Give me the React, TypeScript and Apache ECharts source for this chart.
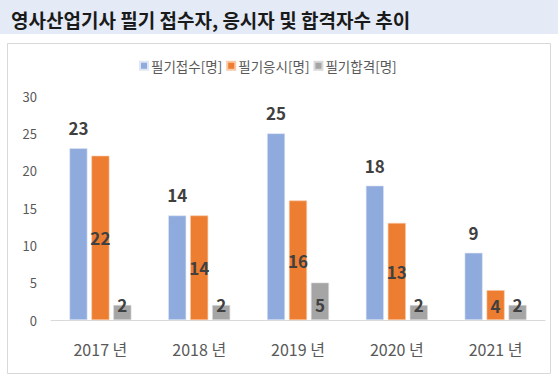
import React, { useEffect, useRef } from "react";
import * as echarts from "echarts";

const categories = ["2017 년", "2018 년", "2019 년", "2020 년", "2021 년"];
const applied = [23, 14, 25, 18, 9];
const attended = [22, 14, 16, 13, 4];
const passed = [2, 2, 5, 2, 2];
const seriesNames = ["필기접수[명]", "필기응시[명]", "필기합격[명]"];
const yTicks = { min: 0, max: 30, interval: 5 };

const FONT = "'Noto Sans CJK KR', 'Noto Sans', sans-serif";

export default function App() {
  const ref = useRef<HTMLDivElement>(null);
  useEffect(() => {
    if (!ref.current) return;
    const chart = echarts.init(ref.current, null, { renderer: "svg" });
    const labelStyle = {
      show: true,
      fontFamily: FONT,
      fontSize: 17,
      fontWeight: "bold" as const,
      color: "#404040",
    };
    chart.setOption({
      animation: false,
      backgroundColor: "#ffffff",
      textStyle: { fontFamily: FONT },
      graphic: [
        {
          type: "rect",
          shape: { x: 0, y: 0, width: 558, height: 34 },
          style: { fill: "#e4eaf6" },
          silent: true,
          z: -10,
        },
        {
          type: "rect",
          shape: { x: 7.5, y: 43.5, width: 543, height: 330 },
          style: { fill: "none", stroke: "#d9d9d9", lineWidth: 1 },
          silent: true,
          z: -10,
        },
      ],
      title: {
        text: "영사산업기사 필기 접수자, 응시자 및 합격자수 추이",
        left: 6,
        top: 5,
        textStyle: {
          fontFamily: FONT,
          fontSize: 19,
          fontWeight: "bold",
          color: "#1a1a1a",
        },
      },
      legend: {
        data: seriesNames,
        left: 134,
        top: 54,
        itemWidth: 8,
        itemHeight: 8,
        itemGap: 4,
        icon: "rect",
        textStyle: { fontFamily: FONT, fontSize: 13.5, color: "#595959", padding: [0, 0, 0, -2] },
      },
      grid: { left: 51, right: 13, top: 96, bottom: 62 },
      xAxis: {
        type: "category",
        data: categories,
        axisLine: { lineStyle: { color: "#d9d9d9" } },
        axisTick: { show: false },
        axisLabel: { fontFamily: FONT, fontSize: 16, color: "#595959", margin: 21 },
      },
      yAxis: {
        type: "value",
        min: yTicks.min,
        max: yTicks.max,
        interval: yTicks.interval,
        axisLine: { show: false },
        axisTick: { show: false },
        splitLine: { show: false },
        axisLabel: { fontFamily: FONT, fontSize: 13, color: "#595959", margin: 14 },
      },
      series: [
        {
          name: seriesNames[0],
          type: "bar",
          data: applied,
          barWidth: 18,
          barGap: "22%",
          itemStyle: { color: "#8faadc", borderColor: "#dfe6f4", borderWidth: 0.6 },
          label: { ...labelStyle, position: "top", distance: 12 },
        },
        {
          name: seriesNames[1],
          type: "bar",
          data: attended,
          barWidth: 18,
          itemStyle: { color: "#ed7d31", borderColor: "#f8c9a8", borderWidth: 0.6 },
          label: { ...labelStyle, position: "inside" },
        },
        {
          name: seriesNames[2],
          type: "bar",
          data: passed,
          barWidth: 18,
          itemStyle: { color: "#a5a5a5", borderColor: "#d9d9d9", borderWidth: 0.6 },
          label: { ...labelStyle, position: "insideBottom", distance: 7 },
        },
      ],
    });
    return () => chart.dispose();
  }, []);
  return (
    <div
      ref={ref}
      style={{ position: "fixed", left: 0, top: 0, width: 558, height: 382 }}
    />
  );
}
